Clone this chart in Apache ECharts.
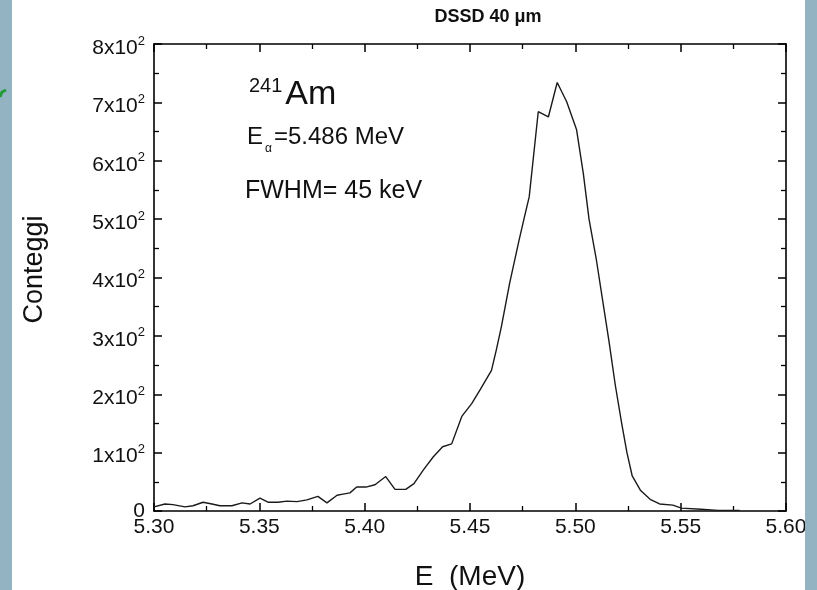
<!DOCTYPE html>
<html>
<head>
<meta charset="utf-8">
<script src="https://cdn.jsdelivr.net/npm/echarts@6/dist/echarts.min.js"></script>
<style>
html,body{margin:0;padding:0;background:#fff;}
#c{width:817px;height:590px;}
</style>
</head>
<body>
<div id="c"></div>
<script>
// Energy (MeV) of each spectrum point
const energy = [5.300, 5.3052, 5.309, 5.3147, 5.3185, 5.3233, 5.3275, 5.3313, 5.337, 5.3418,
  5.3456, 5.3503, 5.3541, 5.3589, 5.3631, 5.3679, 5.3726, 5.3778, 5.3821, 5.3869,
  5.3897, 5.393, 5.3962, 5.4006, 5.4049, 5.410, 5.4144, 5.4195, 5.4234, 5.4278,
  5.4326, 5.437, 5.4413, 5.4461, 5.4508, 5.4547, 5.4602, 5.4625, 5.4649, 5.4688,
  5.4733, 5.4756, 5.4781, 5.4824, 5.4872, 5.4914, 5.4959, 5.5006, 5.5038, 5.5065,
  5.510, 5.513, 5.516, 5.519, 5.522, 5.5245, 5.527, 5.531, 5.5355, 5.540,
  5.5463, 5.5504, 5.5596, 5.5678, 5.578];
// Counts (Conteggi)
const counts = [7, 12, 11, 7, 9, 15, 12, 9, 9, 14,
  12, 22, 15, 15, 17, 16, 19, 25, 14, 27,
  29, 31, 41, 41, 45, 59, 37, 37, 47, 70,
  93, 110, 115, 162, 184, 207, 241, 276, 316, 390,
  464, 500, 538, 684, 675, 734, 701, 653, 578, 500,
  430, 360, 290, 215, 150, 100, 60, 35, 20, 12,
  10, 5, 3, 1, 1];
const xTickLabels = ['5.30', '5.35', '5.40', '5.45', '5.50', '5.55', '5.60'];
const yTickLabels = ['0', '1', '2', '3', '4', '5', '6', '7', '8'];

const chart = echarts.init(document.getElementById('c'), null, {renderer: 'canvas'});
const FONT = 'Liberation Sans, Arial, sans-serif';
const axisLine = {show: true, onZero: false, lineStyle: {color: '#000', width: 1.6}};
const tick = {show: true, inside: true, length: 8, lineStyle: {color: '#000', width: 1.5}};
const minor = {show: true, splitNumber: 2, length: 5, lineStyle: {color: '#000', width: 1.3}};
const xMin = Number(xTickLabels[0]), xMax = Number(xTickLabels[xTickLabels.length - 1]);

chart.setOption({
  animation: false,
  backgroundColor: '#fff',
  grid: {left: 154, right: 31, top: 44, bottom: 79, containLabel: false, outerBoundsMode: 'none'},
  xAxis: [{
    type: 'value', min: xMin, max: xMax, interval: 0.05,
    axisLine: axisLine, axisTick: tick, minorTick: minor,
    splitLine: {show: false}, minorSplitLine: {show: false},
    axisLabel: {color: '#111', fontFamily: FONT, fontSize: 21, margin: 6,
      formatter: v => { const i = Math.round((v - xMin) / 0.05); return xTickLabels[i] || ''; }},
    name: 'E  (MeV)', nameLocation: 'middle', nameGap: 52,
    nameTextStyle: {color: '#111', fontFamily: FONT, fontSize: 28}
  }, {
    type: 'value', position: 'top', min: xMin, max: xMax, interval: 0.05,
    axisLine: axisLine, axisTick: tick, minorTick: minor,
    splitLine: {show: false}, axisLabel: {show: false}
  }],
  yAxis: [{
    type: 'value', min: 0, max: 800, interval: 100,
    axisLine: axisLine, axisTick: tick, minorTick: minor,
    splitLine: {show: false}, minorSplitLine: {show: false},
    axisLabel: {color: '#111', fontFamily: FONT, fontSize: 21, margin: 9,
      formatter: v => { const i = Math.round(v / 100); return i === 0 ? '{z|0}' : '{n|' + yTickLabels[i] + 'x10}{s|2}'; },
      rich: {
        z: {fontFamily: FONT, fontSize: 21, color: '#111'},
        n: {fontFamily: FONT, fontSize: 21, color: '#111', verticalAlign: 'bottom', padding: [8, 0, 0, 0]},
        s: {fontFamily: FONT, fontSize: 13, color: '#111', verticalAlign: 'bottom', padding: [0, 0, 11, 0]}
      }},
    name: 'Conteggi', nameLocation: 'middle', nameGap: 106,
    nameTextStyle: {color: '#111', fontFamily: FONT, fontSize: 27, padding: [0, 0, 0, 16]}
  }, {
    type: 'value', position: 'right', min: 0, max: 800, interval: 100,
    axisLine: axisLine, axisTick: tick, minorTick: minor,
    splitLine: {show: false}, axisLabel: {show: false}
  }],
  series: [{
    type: 'line', xAxisIndex: 0, yAxisIndex: 0,
    data: energy.map((e, i) => [e, counts[i]]),
    showSymbol: false, symbol: 'none',
    lineStyle: {color: '#1a1a1a', width: 1.4}
  }],
  graphic: [
    {type: 'rect', left: 0, top: 0, shape: {width: 12, height: 590}, style: {fill: '#93b3c3'}, z: 10},
    {type: 'rect', left: 805, top: 0, shape: {width: 12, height: 590}, style: {fill: '#93b3c3'}, z: 10},
    {type: 'polyline', z: 11, shape: {points: [[0, 97], [2, 92], [6, 90]]}, style: {stroke: '#1f9a35', lineWidth: 3, fill: null}},
    {type: 'text', x: 488, y: 8, z: 20, style: {text: 'DSSD 40 μm', font: 'bold 18px ' + FONT, fill: '#111', textAlign: 'center'}},
    {type: 'text', x: 249, y: 76, z: 20, style: {
      text: '{s|241}{b|Am}',
      rich: {
        s: {fontFamily: FONT, fontSize: 20, fill: '#111', verticalAlign: 'bottom', padding: [0, 3, 16, 0]},
        b: {fontFamily: FONT, fontSize: 34, fill: '#111', verticalAlign: 'bottom'}
      }}},
    {type: 'text', x: 247, y: 125, z: 20, style: {
      text: '{m|E}{a|α}{m|=5.486 MeV}',
      rich: {
        m: {fontFamily: FONT, fontSize: 24, fill: '#111', verticalAlign: 'top'},
        a: {fontFamily: FONT, fontSize: 12, fill: '#111', verticalAlign: 'top', padding: [18, 2, 0, 2]}
      }}},
    {type: 'text', x: 245, y: 179, z: 20, style: {text: 'FWHM= 45 keV', font: '25px ' + FONT, fill: '#111'}}
  ]
});
</script>
</body>
</html>
